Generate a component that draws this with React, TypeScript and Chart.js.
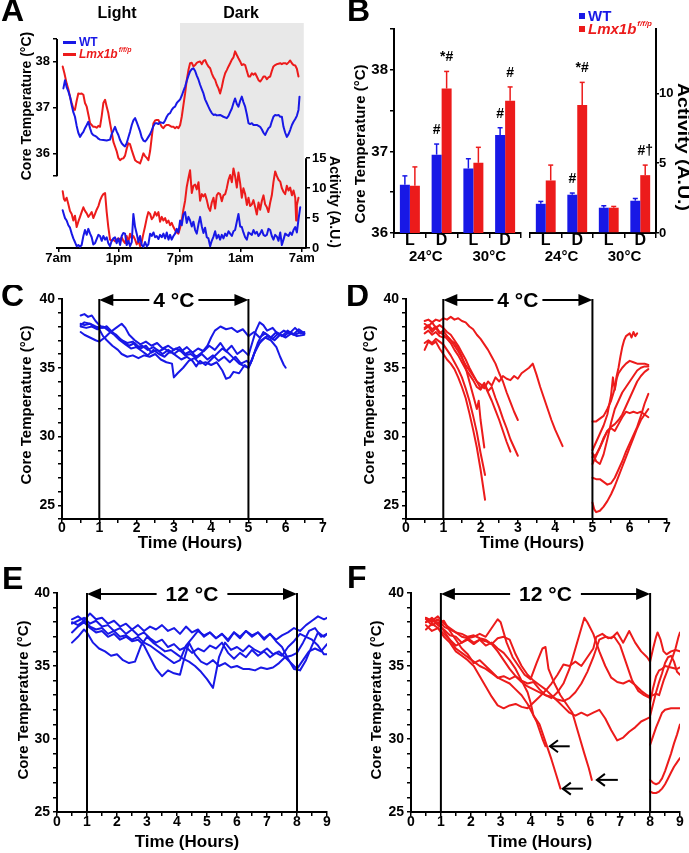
import React, { useEffect, useRef } from 'react';
import { Chart, registerables } from 'chart.js';

Chart.register(...registerables);

const FONT = "'Liberation Sans', Arial, Helvetica, sans-serif";
const BLUE = '#1818e6';
const RED = '#ec1b1b';
const SHADE = '#e8e8e8';

// ================= Panel A : 24 h recordings =================
const aHourTicks = [0, 6, 12, 18, 24];
const aHourLabels = ['7am', '1pm', '7pm', '1am', '7am'];
const aTempTicks = [35.5, 36, 37, 38, 38.5];
const aActTicks = [0, 5, 10, 15];
// [hour, °C] pairs
const aWtTemp = [
  0.5, 37.42, 0.66, 37.6, 0.82, 37.45, 1.0, 37.35, 1.15, 37.24, 1.32, 37.05, 1.48, 36.9, 1.64, 36.8, 1.81, 36.6, 1.97, 36.45,
  2.14, 36.36, 2.3, 36.42, 2.47, 36.47, 2.63, 36.55, 2.8, 36.62, 2.96, 36.69, 3.13, 36.55, 3.29, 36.44, 3.45, 36.4, 3.62, 36.38,
  3.78, 36.36, 3.95, 36.32, 4.11, 36.3, 4.44, 36.29, 4.77, 36.28, 5.1, 36.3, 5.26, 36.42, 5.43, 36.5, 5.59, 36.58, 5.75, 36.48,
  5.92, 36.4, 6.09, 36.29, 6.25, 36.22, 6.41, 36.18, 6.58, 36.15, 6.74, 36.22, 6.91, 36.35, 7.07, 36.47, 7.24, 36.62, 7.4, 36.72,
  7.57, 36.77, 7.73, 36.68, 7.9, 36.58, 8.06, 36.48, 8.22, 36.35, 8.39, 36.28, 8.55, 36.26, 8.72, 36.3, 8.88, 36.36, 9.05, 36.42,
  9.21, 36.5, 9.38, 36.6, 9.54, 36.66, 9.7, 36.66, 9.87, 36.64, 10.03, 36.68, 10.36, 36.66, 10.53, 36.72, 10.69, 36.8, 10.86, 36.86,
  11.02, 36.88, 11.18, 36.95, 11.35, 37.0, 11.51, 37.02, 11.68, 37.1, 11.84, 37.14, 12.01, 37.18, 12.17, 37.26, 12.33, 37.36, 12.5, 37.46,
  12.66, 37.58, 12.83, 37.7, 12.99, 37.79, 13.16, 37.84, 13.32, 37.86, 13.49, 37.8, 13.65, 37.7, 13.82, 37.61, 13.98, 37.5, 14.15, 37.4,
  14.31, 37.31, 14.47, 37.18, 14.64, 37.1, 14.8, 37.02, 14.97, 36.94, 15.13, 36.88, 15.3, 36.84, 15.46, 36.85, 15.62, 36.83, 15.95, 36.84,
  16.28, 36.8, 16.61, 36.77, 16.78, 36.82, 16.94, 36.9, 17.11, 36.98, 17.27, 37.1, 17.43, 37.2, 17.6, 37.08, 17.76, 37.02, 17.93, 37.15,
  18.09, 37.24, 18.25, 37.12, 18.42, 37.02, 18.59, 36.85, 18.75, 36.66, 18.91, 36.64, 19.08, 36.66, 19.24, 36.62, 19.57, 36.62, 19.9, 36.58,
  20.07, 36.52, 20.23, 36.45, 20.39, 36.4, 20.56, 36.48, 20.72, 36.55, 20.89, 36.58, 21.05, 36.7, 21.21, 36.8, 21.38, 36.84, 21.55, 36.83,
  21.71, 36.84, 21.88, 36.8, 22.04, 36.8, 22.2, 36.58, 22.37, 36.45, 22.53, 36.36, 22.7, 36.42, 22.86, 36.51, 23.03, 36.62, 23.19, 36.69,
  23.36, 36.75, 23.52, 36.82, 23.68, 36.95, 23.78, 37.24,
];
const aLmxTemp = [
  0.43, 37.9, 0.6, 37.75, 0.82, 37.53, 0.99, 37.4, 1.15, 37.24, 1.32, 37.1, 1.48, 36.98, 1.64, 36.95, 1.81, 37.15, 1.97, 37.31,
  2.14, 37.3, 2.3, 37.31, 2.47, 37.28, 2.63, 37.1, 2.8, 37.02, 2.96, 36.85, 3.13, 36.66, 3.29, 36.62, 3.45, 36.58, 3.62, 36.58,
  3.78, 36.56, 3.95, 36.6, 4.11, 36.58, 4.28, 36.82, 4.44, 37.1, 4.61, 37.17, 4.77, 37.02, 4.93, 36.88, 5.1, 36.66, 5.26, 36.47,
  5.43, 36.25, 5.59, 36.15, 5.75, 36.05, 5.92, 35.9, 6.09, 35.85, 6.25, 35.88, 6.41, 35.89, 6.58, 35.95, 6.74, 36.1, 6.91, 36.22,
  7.07, 36.2, 7.24, 36.07, 7.4, 35.96, 7.57, 35.85, 7.73, 35.82, 7.9, 35.8, 8.06, 35.78, 8.22, 35.88, 8.39, 36.0, 8.55, 35.94,
  8.72, 35.9, 8.88, 35.85, 9.05, 36.05, 9.21, 36.35, 9.38, 36.66, 9.54, 36.72, 9.7, 36.73, 9.87, 36.73, 10.03, 36.65, 10.2, 36.58,
  10.36, 36.55, 10.53, 36.6, 10.69, 36.62, 10.86, 36.62, 11.02, 36.6, 11.18, 36.58, 11.35, 36.58, 11.51, 36.55, 11.68, 36.58, 11.84, 36.55,
  12.01, 36.62, 12.17, 36.8, 12.33, 37.05, 12.5, 37.31, 12.66, 37.6, 12.83, 37.82, 12.99, 37.97, 13.16, 37.98, 13.32, 37.9, 13.49, 37.93,
  13.65, 37.98, 13.82, 38.0, 13.98, 38.01, 14.15, 37.95, 14.31, 38.02, 14.47, 38.04, 14.64, 37.96, 14.8, 37.9, 14.97, 37.86, 15.13, 37.75,
  15.3, 37.66, 15.46, 37.61, 15.62, 37.5, 15.79, 37.42, 15.95, 37.31, 16.12, 37.45, 16.28, 37.62, 16.45, 37.75, 16.61, 37.82, 16.78, 37.9,
  16.94, 37.97, 17.11, 38.05, 17.27, 38.1, 17.43, 38.23, 17.6, 38.15, 17.76, 38.08, 17.93, 38.01, 18.09, 37.93, 18.25, 37.95, 18.42, 37.93,
  18.59, 37.8, 18.75, 37.68, 18.91, 37.68, 19.08, 37.75, 19.24, 37.72, 19.41, 37.75, 19.57, 37.68, 19.74, 37.6, 19.9, 37.57, 20.07, 37.62,
  20.23, 37.68, 20.39, 37.68, 20.56, 37.62, 20.72, 37.66, 20.89, 37.68, 21.05, 37.8, 21.21, 37.9, 21.38, 37.93, 21.55, 37.95, 21.71, 37.96,
  21.88, 37.97, 22.04, 37.95, 22.2, 37.97, 22.37, 37.97, 22.53, 37.95, 22.7, 37.99, 22.86, 38.03, 23.03, 37.97, 23.19, 37.93, 23.36, 37.92,
  23.52, 37.85, 23.68, 37.68,
];
// [hour, A.U.] pairs
const aWtAct = [
  0.43, 6.3, 0.55, 5.6, 0.66, 5.0, 0.82, 4.6, 0.99, 3.8, 1.15, 3.4, 1.32, 2.4, 1.48, 1.6, 1.64, 1.0, 1.81, 0.3,
  1.97, 0.5, 2.14, 0.2, 2.3, 0.5, 2.47, 2.0, 2.63, 3.0, 2.8, 2.2, 2.96, 3.2, 3.13, 2.4, 3.29, 1.8, 3.45, 0.6,
  3.62, 0.8, 3.78, 1.5, 3.95, 2.2, 4.11, 2.0, 4.28, 1.2, 4.44, 2.0, 4.61, 1.4, 4.77, 1.8, 4.93, 0.8, 5.1, 0.3,
  5.26, 1.2, 5.43, 1.6, 5.59, 1.8, 5.75, 0.8, 5.92, 1.6, 6.09, 0.5, 6.25, 2.0, 6.41, 2.5, 6.58, 2.4, 6.74, 0.5,
  6.91, 1.2, 7.07, 0.3, 7.24, 1.0, 7.4, 5.7, 7.57, 3.5, 7.73, 2.4, 7.9, 1.0, 8.06, 2.0, 8.22, 0.5, 8.39, 0.2,
  8.55, 1.0, 8.72, 0.3, 8.88, 0.6, 9.05, 2.4, 9.21, 2.0, 9.38, 2.6, 9.54, 1.8, 9.7, 2.0, 9.87, 1.5, 10.03, 2.2,
  10.2, 1.8, 10.36, 2.4, 10.53, 1.6, 10.69, 2.6, 10.86, 1.4, 11.02, 2.2, 11.18, 1.4, 11.35, 2.0, 11.51, 2.4, 11.68, 3.2,
  11.84, 2.6, 12.01, 4.6, 12.17, 3.8, 12.33, 5.6, 12.5, 6.0, 12.66, 4.2, 12.83, 5.2, 12.99, 4.6, 13.16, 3.6, 13.32, 4.4,
  13.49, 3.0, 13.65, 2.4, 13.82, 4.0, 13.98, 5.2, 14.15, 3.6, 14.31, 2.5, 14.47, 3.4, 14.64, 1.8, 14.8, 1.6, 14.97, 0.3,
  15.13, 1.2, 15.3, 1.9, 15.46, 2.8, 15.62, 1.6, 15.79, 2.2, 15.95, 1.4, 16.12, 2.2, 16.28, 1.6, 16.45, 2.4, 16.61, 2.0,
  16.78, 2.8, 16.94, 2.4, 17.11, 2.0, 17.27, 2.8, 17.43, 3.0, 17.6, 4.4, 17.76, 5.7, 17.93, 3.6, 18.09, 3.5, 18.25, 2.6,
  18.42, 1.8, 18.59, 1.4, 18.75, 2.6, 18.91, 2.4, 19.08, 2.2, 19.24, 3.0, 19.41, 2.4, 19.57, 2.7, 19.74, 2.0, 19.9, 2.4,
  20.07, 3.0, 20.23, 2.2, 20.39, 2.0, 20.56, 2.2, 20.72, 3.2, 20.89, 3.0, 21.05, 2.0, 21.21, 1.4, 21.38, 2.2, 21.55, 1.9,
  21.71, 1.2, 21.88, 2.6, 22.04, 0.5, 22.2, 1.4, 22.37, 2.4, 22.53, 2.2, 22.7, 2.0, 22.86, 2.6, 23.03, 2.2, 23.19, 3.0,
  23.36, 3.5, 23.52, 2.6, 23.68, 4.8, 23.85, 6.8,
];
const aLmxAct = [
  0.43, 9.5, 0.55, 8.2, 0.66, 7.9, 0.82, 8.4, 0.99, 7.3, 1.15, 6.2, 1.32, 5.7, 1.48, 4.6, 1.64, 5.4, 1.81, 3.5,
  1.97, 4.4, 2.14, 5.2, 2.3, 6.0, 2.47, 6.8, 2.63, 6.2, 2.8, 5.8, 2.96, 5.2, 3.13, 5.6, 3.29, 6.0, 3.45, 5.0,
  3.62, 5.7, 3.78, 6.4, 3.95, 7.0, 4.11, 7.9, 4.28, 8.6, 4.44, 9.0, 4.61, 9.2, 4.77, 6.0, 4.93, 3.5, 5.1, 1.4,
  5.26, 1.2, 5.43, 1.4, 5.59, 1.1, 5.75, 1.4, 5.92, 1.6, 6.09, 1.4, 6.25, 1.8, 6.41, 1.2, 6.58, 0.8, 6.74, 2.0,
  6.91, 1.0, 7.07, 2.4, 7.24, 1.6, 7.4, 2.0, 7.57, 1.4, 7.73, 0.6, 7.9, 1.2, 8.06, 0.3, 8.22, 1.0, 8.39, 2.4,
  8.55, 3.6, 8.72, 5.0, 8.88, 6.0, 9.05, 5.7, 9.21, 4.8, 9.38, 5.2, 9.54, 6.0, 9.7, 5.4, 9.87, 6.0, 10.03, 4.4,
  10.2, 5.2, 10.36, 4.6, 10.53, 5.0, 10.69, 4.2, 10.86, 4.6, 11.02, 3.8, 11.18, 4.2, 11.35, 3.5, 11.51, 3.0, 11.68, 2.6,
  11.84, 2.4, 12.01, 3.4, 12.17, 4.6, 12.33, 6.4, 12.5, 7.9, 12.66, 10.2, 12.83, 11.7, 12.99, 13.0, 13.16, 9.2, 13.32, 10.4,
  13.49, 10.6, 13.65, 9.8, 13.82, 11.0, 13.98, 7.9, 14.15, 9.0, 14.31, 8.6, 14.47, 9.0, 14.64, 8.0, 14.8, 6.8, 14.97, 6.2,
  15.13, 7.6, 15.3, 8.4, 15.46, 6.6, 15.62, 8.8, 15.79, 9.2, 15.95, 9.0, 16.12, 7.8, 16.28, 8.8, 16.45, 9.0, 16.61, 10.0,
  16.78, 11.4, 16.94, 12.2, 17.11, 11.0, 17.27, 13.3, 17.43, 12.0, 17.6, 10.1, 17.76, 12.6, 17.93, 10.8, 18.09, 8.4, 18.25, 10.0,
  18.42, 9.0, 18.59, 7.2, 18.75, 8.4, 18.91, 7.0, 19.08, 7.3, 19.24, 8.0, 19.41, 6.8, 19.57, 5.6, 19.74, 7.6, 19.9, 6.4,
  20.07, 7.9, 20.23, 8.8, 20.39, 7.3, 20.56, 6.8, 20.72, 6.0, 20.89, 7.6, 21.05, 8.8, 21.21, 11.0, 21.38, 12.8, 21.55, 12.0,
  21.71, 11.4, 21.88, 11.1, 22.04, 10.0, 22.2, 9.4, 22.37, 9.0, 22.53, 10.4, 22.7, 9.6, 22.86, 10.1, 23.03, 8.8, 23.19, 9.6,
  23.36, 8.4, 23.45, 4.6, 23.52, 7.2, 23.68, 8.4,
];

// ================= Panel B : bar means ± SEM =================
const bCats = ['L', 'D', 'L', 'D'];
const bGroups = ['24°C', '30°C'];
const bTempTicks = [36, 36.5, 37, 37.5, 38, 38.5];
const bActTicks = [0, 5, 10];
const bTempWT = [36.59, 36.96, 36.79, 37.2];
const bTempWTErr = [0.11, 0.13, 0.12, 0.09];
const bTempLmx = [36.58, 37.77, 36.86, 37.62];
const bTempLmxErr = [0.23, 0.21, 0.19, 0.17];
const bActWT = [2.09, 2.74, 1.81, 2.31];
const bActWTErr = [0.17, 0.12, 0.14, 0.16];
const bActLmx = [3.76, 9.16, 1.81, 4.14];
const bActLmxErr = [1.1, 1.62, 0.09, 0.72];
const bTempMarksWT = ['', '#', '', '#'];
const bTempMarksLmx = ['', '*#', '', '#'];
const bActMarksWT = ['', '#', '', ''];
const bActMarksLmx = ['', '*#', '', '#†'];

// ================= Panel C : WT at 4 °C =================
const cTrace1 = [0.5, 38.8, 0.6, 38.9, 0.7, 38.7, 0.8, 38.8, 0.9, 38.4, 1.0, 38.1, 1.1, 37.9, 1.2, 38.0, 1.3, 37.6, 1.45, 37.4, 1.6, 37.0, 1.75, 36.8, 1.9, 36.9, 2.0, 36.5, 2.15, 36.6, 2.3, 36.3, 2.45, 36.5, 2.6, 36.2, 2.75, 36.4, 2.9, 36.1, 3.05, 36.4, 3.2, 36.2, 3.35, 36.5, 3.5, 36.1, 3.65, 36.4, 3.8, 36.2, 3.95, 36.6, 4.1, 36.3, 4.25, 36.8, 4.4, 36.2, 4.55, 36.6, 4.7, 36.0, 4.85, 36.3, 5.0, 35.9, 5.1, 36.8, 5.2, 37.7, 5.3, 38.3, 5.4, 38.1, 5.5, 37.7, 5.65, 37.9, 5.8, 37.4, 5.95, 37.7, 6.1, 37.5, 6.25, 37.9, 6.4, 37.5, 6.5, 37.6];
const cTrace2 = [0.5, 38.2, 0.6, 38.1, 0.75, 38.2, 0.9, 37.9, 1.0, 37.8, 1.1, 37.3, 1.2, 37.0, 1.35, 36.6, 1.5, 36.3, 1.6, 36.0, 1.75, 35.8, 1.9, 35.9, 2.05, 35.7, 2.2, 35.9, 2.35, 35.8, 2.5, 36.0, 2.65, 35.6, 2.8, 35.4, 2.95, 35.3, 3.0, 34.3, 3.1, 34.6, 3.25, 35.0, 3.4, 35.5, 3.55, 35.7, 3.7, 35.3, 3.85, 35.4, 4.0, 35.2, 4.15, 35.4, 4.3, 34.8, 4.4, 34.2, 4.5, 34.3, 4.6, 34.7, 4.75, 34.6, 4.9, 35.2, 5.0, 35.0, 5.1, 35.6, 5.2, 36.4, 5.35, 37.0, 5.5, 37.3, 5.65, 37.1, 5.8, 37.5, 5.95, 37.3, 6.1, 37.6, 6.25, 37.4, 6.4, 37.6, 6.5, 37.5];
const cTrace3 = [0.5, 37.6, 0.6, 37.4, 0.75, 37.2, 0.9, 37.0, 1.0, 36.9, 1.15, 37.2, 1.3, 37.6, 1.45, 37.9, 1.6, 38.2, 1.7, 37.9, 1.8, 37.4, 1.95, 37.0, 2.1, 36.7, 2.25, 36.9, 2.4, 36.6, 2.55, 36.8, 2.7, 36.4, 2.85, 36.6, 3.0, 36.3, 3.15, 36.5, 3.3, 36.0, 3.45, 36.2, 3.6, 35.8, 3.75, 36.1, 3.9, 36.6, 4.0, 37.2, 4.1, 37.7, 4.25, 38.0, 4.4, 37.8, 4.55, 37.9, 4.7, 37.6, 4.85, 37.8, 5.0, 37.3, 5.15, 37.6, 5.3, 37.2, 5.45, 37.5, 5.6, 37.2, 5.75, 37.6, 5.9, 37.3, 6.05, 37.7, 6.2, 37.4, 6.35, 37.8, 6.5, 37.5];
const cTrace4 = [0.5, 38.0, 0.65, 37.9, 0.8, 38.0, 0.95, 37.8, 1.1, 38.0, 1.25, 37.7, 1.4, 37.4, 1.55, 37.0, 1.7, 36.7, 1.85, 36.4, 2.0, 36.5, 2.15, 36.2, 2.3, 35.9, 2.45, 36.3, 2.6, 36.0, 2.75, 35.8, 2.9, 36.2, 3.05, 35.9, 3.2, 35.6, 3.35, 35.8, 3.5, 35.5, 3.6, 35.1, 3.7, 35.5, 3.85, 35.2, 4.0, 35.6, 4.15, 36.0, 4.3, 36.4, 4.45, 36.1, 4.6, 35.7, 4.75, 35.3, 4.9, 35.1, 5.0, 35.0, 5.1, 35.6, 5.25, 36.8, 5.4, 37.6, 5.55, 37.3, 5.7, 37.0, 5.85, 37.4, 6.0, 37.2, 6.15, 37.5, 6.3, 37.3, 6.5, 37.4];
const cTrace5 = [0.5, 38.1, 0.6, 38.3, 0.75, 38.2, 0.9, 38.0, 1.05, 37.9, 1.2, 38.0, 1.35, 37.6, 1.5, 37.2, 1.65, 36.9, 1.8, 36.6, 1.95, 36.8, 2.1, 36.4, 2.25, 36.6, 2.4, 36.1, 2.55, 36.3, 2.7, 36.0, 2.85, 36.3, 3.0, 36.0, 3.15, 36.3, 3.3, 35.9, 3.45, 36.0, 3.6, 35.7, 3.75, 36.0, 3.9, 35.6, 4.05, 35.9, 4.2, 35.5, 4.35, 35.8, 4.5, 35.4, 4.65, 35.8, 4.8, 35.3, 4.95, 35.5, 5.05, 35.3, 5.15, 36.0, 5.3, 36.8, 5.45, 37.2, 5.6, 37.0, 5.75, 36.5, 5.85, 35.8, 5.95, 35.2, 6.0, 35.0];
const cTraces = [cTrace1, cTrace2, cTrace3, cTrace4, cTrace5];

// ================= Panel D : Lmx1b at 4 °C =================
const dTrace1 = [0.5, 38.4, 0.6, 38.5, 0.7, 38.3, 0.8, 38.5, 0.9, 38.4, 1.0, 38.6, 1.1, 38.5, 1.2, 38.7, 1.3, 38.5, 1.4, 38.6, 1.5, 38.4, 1.6, 38.3, 1.7, 38.0, 1.8, 37.8, 1.9, 37.4, 2.0, 37.1, 2.1, 36.7, 2.2, 36.3, 2.3, 35.8, 2.4, 35.3, 2.5, 34.6, 2.6, 34.0, 2.7, 33.2, 2.8, 32.5, 2.9, 31.8, 3.0, 31.2];
const dTrace2 = [0.5, 37.8, 0.6, 38.0, 0.7, 37.6, 0.8, 37.9, 0.9, 37.5, 1.0, 37.7, 1.1, 37.3, 1.2, 37.0, 1.3, 36.6, 1.4, 36.2, 1.5, 35.7, 1.6, 35.2, 1.7, 34.8, 1.8, 34.4, 1.9, 34.0, 2.0, 33.8, 2.1, 33.5, 2.2, 34.0, 2.3, 33.7, 2.4, 34.3, 2.5, 34.0, 2.6, 34.4, 2.7, 34.2, 2.8, 34.1, 2.9, 34.4, 3.0, 34.2, 3.1, 34.6, 3.2, 34.8, 3.3, 35.0, 3.4, 35.3, 3.5, 34.5, 3.6, 33.6, 3.7, 32.8, 3.8, 32.0, 3.9, 31.2, 4.0, 30.5, 4.1, 29.9, 4.2, 29.3];
const dTrace3 = [0.5, 36.3, 0.6, 36.9, 0.7, 36.7, 0.8, 36.9, 0.9, 36.4, 1.0, 36.0, 1.1, 35.6, 1.2, 35.3, 1.3, 34.9, 1.4, 34.3, 1.5, 33.6, 1.6, 32.8, 1.7, 31.7, 1.8, 30.5, 1.9, 29.2, 2.0, 27.6, 2.12, 25.4];
const dTrace4 = [0.5, 36.8, 0.6, 37.0, 0.7, 36.8, 0.8, 37.1, 0.9, 36.9, 1.0, 36.7, 1.1, 36.3, 1.2, 35.9, 1.3, 35.4, 1.4, 34.9, 1.5, 34.3, 1.6, 33.5, 1.7, 32.6, 1.8, 31.5, 1.9, 30.3, 2.0, 28.8, 2.12, 27.2];
const dTrace5 = [0.5, 37.5, 0.6, 37.7, 0.7, 37.4, 0.8, 37.6, 0.9, 37.3, 1.0, 37.2, 1.1, 37.3, 1.2, 37.0, 1.3, 36.8, 1.4, 36.4, 1.5, 35.8, 1.6, 35.0, 1.7, 34.0, 1.8, 33.0, 1.9, 32.0, 1.95, 32.6, 2.0, 31.2, 2.1, 29.2];
const dTrace6 = [0.5, 37.9, 0.6, 38.1, 0.7, 37.8, 0.8, 38.0, 0.9, 37.6, 1.0, 37.4, 1.1, 37.1, 1.2, 36.8, 1.3, 36.3, 1.4, 35.9, 1.5, 35.4, 1.6, 34.9, 1.7, 34.5, 1.8, 34.1, 1.9, 33.6, 2.0, 33.4, 2.1, 33.8, 2.2, 33.2, 2.3, 32.6, 2.4, 31.9, 2.5, 31.2, 2.6, 30.4, 2.7, 29.6, 2.8, 28.9];
const dTrace7 = [0.5, 38.2, 0.6, 38.0, 0.7, 38.3, 0.8, 37.9, 0.9, 38.1, 1.0, 37.9, 1.1, 37.6, 1.2, 37.4, 1.3, 37.0, 1.4, 36.6, 1.5, 36.1, 1.6, 35.6, 1.7, 35.0, 1.8, 34.5, 1.9, 34.0, 2.0, 33.5, 2.1, 33.9, 2.2, 33.3, 2.3, 33.6, 2.4, 32.8, 2.5, 32.1, 2.6, 31.3, 2.7, 30.6, 2.8, 29.8, 2.9, 29.2, 3.0, 28.6];
const dRecover1 = [5.0, 31.1, 5.1, 31.1, 5.2, 31.3, 5.3, 31.5, 5.4, 32.0, 5.5, 32.6, 5.6, 33.5, 5.65, 34.4, 5.7, 35.0, 5.75, 35.8, 5.8, 36.5, 5.85, 37.0, 5.9, 37.3, 6.0, 37.5, 6.05, 37.2, 6.1, 37.6, 6.15, 37.3, 6.2, 37.5];
const dRecover2 = [5.0, 29.0, 5.1, 29.6, 5.2, 30.2, 5.3, 30.8, 5.4, 31.6, 5.5, 33.0, 5.55, 34.3, 5.6, 33.4, 5.65, 34.2, 5.7, 34.6, 5.8, 35.0, 5.9, 35.3, 6.0, 35.5, 6.1, 35.4, 6.2, 35.3, 6.3, 35.3, 6.4, 35.3, 6.5, 35.2];
const dRecover3 = [5.0, 28.5, 5.1, 28.7, 5.2, 29.2, 5.3, 29.8, 5.4, 30.4, 5.5, 30.7, 5.6, 30.9, 5.7, 31.2, 5.8, 31.6, 5.9, 32.2, 6.0, 32.8, 6.1, 33.4, 6.2, 34.0, 6.3, 34.4, 6.4, 34.7, 6.5, 34.9];
const dRecover4 = [5.0, 27.0, 5.1, 26.9, 5.2, 26.9, 5.3, 26.7, 5.4, 26.5, 5.5, 26.6, 5.6, 27.0, 5.7, 27.6, 5.8, 28.2, 5.9, 28.9, 6.0, 29.5, 6.1, 30.1, 6.2, 30.7, 6.3, 31.5, 6.4, 32.4, 6.5, 33.1];
const dRecover5 = [5.0, 25.2, 5.05, 24.7, 5.1, 24.5, 5.2, 24.6, 5.3, 24.9, 5.4, 25.3, 5.5, 25.8, 5.6, 26.4, 5.7, 27.1, 5.8, 27.8, 5.9, 28.5, 6.0, 29.2, 6.1, 29.9, 6.2, 30.6, 6.3, 31.2, 6.4, 31.6, 6.5, 32.0];
const dRecover6 = [5.0, 28.0, 5.1, 28.6, 5.2, 29.2, 5.3, 29.9, 5.4, 30.4, 5.5, 30.6, 5.6, 30.4, 5.7, 30.9, 5.8, 31.4, 5.9, 31.8, 6.0, 31.7, 6.1, 31.8, 6.2, 31.7, 6.3, 31.8, 6.4, 31.6, 6.5, 31.4];
const dRecover7 = [5.0, 28.8, 5.1, 28.2, 5.2, 28.0, 5.3, 28.7, 5.4, 29.8, 5.5, 31.0, 5.6, 32.0, 5.7, 32.6, 5.8, 33.2, 5.9, 33.6, 6.0, 34.0, 6.1, 34.4, 6.2, 34.8, 6.3, 35.0, 6.4, 35.1, 6.5, 35.1];
const dTraces = [dTrace1, dTrace2, dTrace3, dTrace4, dTrace5, dTrace6, dTrace7, dRecover1, dRecover2, dRecover3, dRecover4, dRecover5, dRecover6, dRecover7];

// ================= Panel E : WT at 12 °C =================
const eTrace1 = [0.5, 38.2, 0.7, 38.4, 0.9, 38.1, 1.1, 38.6, 1.3, 38.2, 1.5, 38.3, 1.7, 37.9, 1.9, 38.1, 2.1, 37.7, 2.3, 37.9, 2.5, 37.5, 2.7, 37.8, 2.9, 37.4, 3.1, 37.7, 3.3, 37.5, 3.5, 37.8, 3.7, 37.4, 3.9, 37.6, 4.1, 37.2, 4.3, 37.7, 4.5, 37.3, 4.7, 37.5, 4.9, 37.0, 5.1, 37.3, 5.3, 36.9, 5.5, 37.2, 5.7, 36.8, 5.9, 37.3, 6.1, 37.0, 6.3, 37.4, 6.5, 37.1, 6.7, 37.3, 6.9, 36.9, 7.1, 37.2, 7.3, 36.8, 7.5, 37.1, 7.7, 37.3, 7.9, 37.6, 8.1, 37.4, 8.3, 37.8, 8.5, 38.1, 8.7, 38.4, 8.9, 38.2, 9.0, 38.3];
const eTrace2 = [0.5, 37.3, 0.7, 37.7, 0.9, 38.0, 1.1, 37.6, 1.3, 37.3, 1.5, 37.4, 1.7, 37.0, 1.9, 37.2, 2.1, 36.8, 2.3, 37.0, 2.5, 36.7, 2.7, 36.8, 2.9, 36.4, 3.1, 35.6, 3.3, 34.8, 3.5, 34.3, 3.7, 34.7, 3.9, 34.5, 4.1, 34.4, 4.2, 35.2, 4.4, 36.6, 4.6, 35.8, 4.8, 35.3, 5.0, 35.1, 5.2, 35.4, 5.4, 35.0, 5.6, 35.2, 5.8, 34.9, 6.0, 35.0, 6.2, 34.8, 6.4, 34.8, 6.6, 34.7, 6.8, 34.9, 7.0, 34.8, 7.2, 34.9, 7.4, 35.2, 7.6, 35.6, 7.8, 35.7, 8.0, 35.9, 8.2, 36.6, 8.4, 37.4, 8.6, 37.6, 8.8, 37.0, 9.0, 37.2];
const eTrace3 = [0.5, 36.6, 0.7, 37.0, 0.9, 37.5, 1.0, 37.3, 1.2, 36.6, 1.4, 36.2, 1.6, 36.0, 1.8, 35.7, 2.0, 35.8, 2.2, 35.4, 2.4, 35.2, 2.6, 35.3, 2.8, 36.4, 3.0, 37.0, 3.2, 36.6, 3.4, 36.3, 3.6, 36.0, 3.8, 36.1, 4.0, 35.8, 4.2, 35.5, 4.4, 35.3, 4.6, 35.0, 4.8, 34.6, 5.0, 34.1, 5.2, 33.5, 5.4, 35.6, 5.6, 36.6, 5.8, 36.1, 6.0, 36.3, 6.2, 36.0, 6.4, 36.4, 6.6, 36.1, 6.8, 35.9, 7.0, 36.2, 7.2, 35.8, 7.4, 36.0, 7.6, 35.6, 7.8, 35.2, 8.0, 34.8, 8.2, 35.4, 8.4, 36.0, 8.6, 36.2, 8.8, 36.0, 9.0, 36.5];
const eTrace4 = [0.5, 37.9, 0.7, 38.1, 0.9, 38.3, 1.1, 37.9, 1.3, 38.1, 1.5, 37.7, 1.7, 37.8, 1.9, 37.4, 2.1, 37.6, 2.3, 37.2, 2.5, 37.5, 2.7, 37.1, 2.9, 37.3, 3.1, 36.9, 3.3, 36.6, 3.5, 36.8, 3.7, 36.3, 3.9, 36.5, 4.1, 36.1, 4.3, 36.3, 4.5, 35.9, 4.7, 36.2, 4.9, 36.0, 5.1, 36.4, 5.3, 36.2, 5.5, 36.6, 5.7, 35.9, 5.9, 35.5, 6.1, 35.9, 6.3, 35.6, 6.5, 36.1, 6.7, 35.7, 6.9, 36.0, 7.1, 35.6, 7.3, 35.9, 7.5, 35.7, 7.7, 36.3, 7.9, 36.7, 8.1, 37.2, 8.3, 37.0, 8.5, 36.8, 8.7, 36.4, 8.9, 35.8, 9.0, 35.8];
const eTrace5 = [0.5, 38.0, 0.7, 37.8, 0.9, 38.1, 1.1, 37.7, 1.3, 37.5, 1.5, 37.6, 1.7, 37.2, 1.9, 37.4, 2.1, 37.0, 2.3, 37.1, 2.5, 36.8, 2.7, 37.0, 2.9, 36.6, 3.1, 36.4, 3.3, 36.1, 3.5, 35.8, 3.7, 35.5, 3.9, 35.2, 4.1, 35.4, 4.3, 36.4, 4.5, 36.9, 4.7, 37.4, 4.9, 37.1, 5.1, 37.3, 5.3, 36.9, 5.5, 37.2, 5.7, 36.7, 5.9, 37.3, 6.1, 36.9, 6.3, 37.4, 6.5, 37.0, 6.7, 37.3, 6.9, 36.8, 7.1, 37.2, 7.3, 36.7, 7.5, 36.3, 7.7, 35.5, 7.9, 34.8, 8.1, 34.7, 8.3, 35.4, 8.5, 36.4, 8.7, 37.3, 8.9, 37.0, 9.0, 37.2];
const eTraces = [eTrace1, eTrace2, eTrace3, eTrace4, eTrace5];

// ================= Panel F : Lmx1b at 12 °C =================
const fTrace1 = [0.5, 38.3, 0.7, 38.1, 0.9, 38.4, 1.1, 37.9, 1.3, 37.6, 1.5, 37.3, 1.7, 37.0, 1.9, 36.9, 2.1, 36.6, 2.3, 36.8, 2.5, 36.4, 2.7, 36.6, 2.9, 36.2, 3.1, 35.9, 3.3, 35.4, 3.5, 34.8, 3.7, 34.0, 3.9, 33.2, 4.0, 32.5, 4.1, 31.6, 4.2, 31.2, 4.3, 30.6, 4.4, 30.0, 4.5, 29.5];
const fTrace2 = [0.5, 38.0, 0.7, 38.3, 0.9, 37.9, 1.1, 38.1, 1.3, 37.4, 1.5, 36.8, 1.7, 36.2, 1.9, 35.8, 2.1, 35.2, 2.3, 35.4, 2.5, 35.0, 2.7, 34.6, 2.9, 34.2, 3.1, 34.0, 3.3, 33.8, 3.5, 33.4, 3.7, 33.0, 3.9, 32.4, 4.1, 31.6, 4.3, 31.0, 4.5, 29.8, 4.7, 28.6, 4.85, 27.6, 5.0, 26.6];
const fTrace3 = [0.5, 37.5, 0.7, 37.9, 0.9, 37.6, 1.1, 37.2, 1.3, 36.8, 1.5, 36.4, 1.7, 36.6, 1.9, 36.9, 2.1, 37.0, 2.3, 37.2, 2.5, 37.0, 2.7, 37.6, 2.9, 38.2, 3.0, 38.0, 3.2, 36.6, 3.4, 35.6, 3.6, 35.0, 3.8, 34.4, 4.0, 34.1, 4.2, 35.2, 4.4, 36.2, 4.5, 36.3, 4.6, 34.8, 4.8, 33.8, 5.0, 33.0, 5.2, 32.4, 5.4, 31.8, 5.6, 30.4, 5.8, 29.0, 5.95, 28.0, 6.05, 27.2];
const fTrace4 = [0.5, 38.2, 0.7, 37.8, 0.9, 38.0, 1.1, 37.4, 1.3, 36.8, 1.5, 36.2, 1.7, 35.9, 1.9, 35.6, 2.1, 35.3, 2.3, 35.0, 2.5, 34.8, 2.7, 34.5, 2.9, 34.2, 3.1, 34.3, 3.3, 34.1, 3.5, 34.3, 3.7, 34.0, 3.9, 33.8, 4.1, 33.9, 4.3, 33.4, 4.5, 33.0, 4.7, 32.8, 4.9, 33.2, 5.1, 33.8, 5.3, 34.8, 5.5, 36.2, 5.7, 37.6, 5.8, 38.3, 5.9, 38.0, 6.1, 37.2, 6.3, 36.0, 6.5, 35.0, 6.7, 34.2, 6.9, 33.9, 7.1, 33.8, 7.3, 34.0, 7.5, 33.7, 7.7, 33.3, 7.9, 33.0, 8.0, 32.9];
const fTrace5 = [0.5, 37.8, 0.7, 37.4, 0.9, 37.6, 1.1, 37.0, 1.3, 36.6, 1.5, 36.0, 1.7, 35.7, 1.9, 35.4, 2.1, 35.0, 2.3, 34.3, 2.5, 33.6, 2.7, 32.9, 2.9, 32.3, 3.1, 32.1, 3.3, 32.3, 3.5, 32.4, 3.7, 32.2, 3.9, 32.1, 4.1, 32.5, 4.3, 32.9, 4.5, 33.3, 4.7, 33.8, 4.9, 34.4, 5.1, 35.1, 5.3, 35.0, 5.5, 35.3, 5.7, 35.0, 5.9, 35.6, 6.1, 36.2, 6.2, 37.0, 6.4, 37.2, 6.6, 36.9, 6.8, 37.0, 7.0, 36.4, 7.2, 35.2, 7.4, 34.0, 7.6, 33.3, 7.8, 33.0, 8.0, 32.8];
const fTrace6 = [0.5, 38.0, 0.7, 38.2, 0.9, 37.8, 1.1, 37.5, 1.3, 37.1, 1.5, 37.0, 1.7, 36.6, 1.9, 36.8, 2.1, 36.5, 2.3, 36.8, 2.5, 36.7, 2.7, 36.5, 2.9, 36.9, 3.1, 37.0, 3.3, 36.8, 3.5, 35.8, 3.7, 35.0, 3.9, 34.4, 4.1, 34.0, 4.3, 33.7, 4.5, 33.4, 4.7, 33.0, 4.9, 32.6, 5.1, 32.2, 5.3, 31.8, 5.5, 31.6, 5.7, 31.8, 5.9, 31.6, 6.1, 31.8, 6.3, 32.0, 6.5, 31.4, 6.7, 30.6, 6.9, 29.9, 7.1, 30.1, 7.3, 30.5, 7.5, 30.8, 7.7, 31.2, 7.9, 31.4, 8.0, 31.5];
const fTrace7 = [0.5, 38.3, 0.7, 38.0, 0.9, 38.2, 1.1, 37.7, 1.3, 37.5, 1.5, 37.3, 1.7, 37.2, 1.9, 37.0, 2.1, 37.1, 2.3, 36.9, 2.5, 36.8, 2.7, 36.5, 2.9, 36.0, 3.1, 35.4, 3.3, 34.8, 3.5, 34.3, 3.7, 33.9, 3.9, 33.6, 4.1, 33.4, 4.3, 33.2, 4.5, 33.0, 4.7, 32.9, 4.9, 32.7, 5.1, 32.6, 5.3, 32.8, 5.5, 33.2, 5.7, 33.8, 5.9, 34.6, 6.1, 35.6, 6.3, 36.8, 6.5, 37.0, 6.7, 36.9, 6.9, 37.3, 7.1, 36.6, 7.3, 37.4, 7.5, 36.6, 7.7, 36.0, 7.9, 35.6, 8.0, 35.3];
const fRecover1 = [8.0, 29.6, 8.1, 30.2, 8.2, 30.8, 8.3, 31.3, 8.4, 31.8, 8.5, 32.0, 8.7, 32.1, 8.9, 32.1, 9.0, 32.1];
const fRecover2 = [8.0, 27.2, 8.1, 27.0, 8.2, 26.9, 8.3, 27.0, 8.4, 27.3, 8.5, 27.8, 8.6, 28.4, 8.7, 29.0, 8.8, 29.7, 8.9, 30.3, 9.0, 31.0];
const fRecover3 = [8.0, 26.4, 8.1, 26.3, 8.2, 26.3, 8.3, 26.4, 8.4, 26.6, 8.5, 26.9, 8.6, 27.3, 8.7, 27.7, 8.8, 28.1, 8.9, 28.4, 9.0, 28.7];
const fRecover4 = [8.0, 32.5, 8.1, 33.5, 8.2, 34.3, 8.3, 34.7, 8.4, 34.8, 8.5, 35.0, 8.7, 34.9, 8.9, 34.8, 9.0, 34.9];
const fRecover5 = [8.0, 31.6, 8.1, 32.4, 8.2, 33.2, 8.3, 33.9, 8.4, 34.5, 8.5, 35.2, 8.6, 35.6, 8.7, 35.7, 8.8, 35.3, 8.9, 34.6, 9.0, 34.4];
const fRecover6 = [8.0, 35.3, 8.1, 36.2, 8.2, 37.0, 8.25, 37.3, 8.35, 36.8, 8.45, 36.0, 8.55, 35.8, 8.7, 36.0, 8.85, 36.1, 9.0, 36.0];
const fRecover7 = [8.0, 33.0, 8.1, 33.0, 8.2, 33.1, 8.3, 33.0, 8.45, 34.0, 8.6, 34.8, 8.75, 35.6, 8.85, 36.2, 8.95, 37.0, 9.0, 37.3];
const fTraces = [fTrace1, fTrace2, fTrace3, fTrace4, fTrace5, fTrace6, fTrace7, fRecover1, fRecover2, fRecover3, fRecover4, fRecover5, fRecover6, fRecover7];
// arrow annotations: [tip hour, tail hour, °C]
const fArrows = [[4.65, 5.31, 29.5], [6.22, 6.92, 27.2], [5.08, 5.75, 26.6]];

const cold4 = [1, 5];
const cold12 = [1, 8];

// ================= helpers =================
type Box = { x: number; y: number; w: number; h: number };
type Area = { l: number; t: number; r: number; b: number };

const bold = (px: number) => `bold ${px}px ${FONT}`;
const boldIt = (px: number) => `italic bold ${px}px ${FONT}`;

function pts(flat: number[]) {
  const out: { x: number; y: number }[] = [];
  for (let i = 0; i + 1 < flat.length; i += 2) out.push({ x: flat[i], y: flat[i + 1] });
  return out;
}

function txt(ctx: any, s: string, x: number, y: number, font: string, color = '#000', align = 'center', rot = 0, stretch = 1) {
  ctx.save();
  ctx.translate(x, y);
  if (rot) ctx.rotate(rot);
  if (stretch !== 1) ctx.scale(stretch, 1);
  ctx.font = font;
  ctx.fillStyle = color;
  ctx.textAlign = align;
  ctx.textBaseline = 'middle';
  ctx.fillText(s, 0, 0);
  ctx.restore();
}

function seg(ctx: any, x1: number, y1: number, x2: number, y2: number) {
  ctx.beginPath();
  ctx.moveTo(x1, y1);
  ctx.lineTo(x2, y2);
  ctx.stroke();
}

const fixW = (w: number) => (s: any) => { s.width = w; s.paddingTop = 0; s.paddingBottom = 0; };
const fixH = (h: number) => (s: any) => { s.height = h; s.paddingLeft = 0; s.paddingRight = 0; };
const setTicks = (vals: number[]) => (s: any) => { s.ticks = vals.map((v) => ({ value: v })); };
const tickFont = (px: number) => ({ family: FONT, size: px, weight: 'bold', lineHeight: 1 });
const gridOpts = (len: number, extra: any = {}) => ({ drawOnChartArea: false, drawTicks: true, tickLength: len, color: '#000', lineWidth: 1.5, ...extra });
const BORDER = { display: true, color: '#000', width: 2 };

function common(box: Box, area: Area, padLeft = 0) {
  return {
    responsive: false,
    maintainAspectRatio: false,
    animation: false,
    devicePixelRatio: 1,
    events: [],
    layout: { padding: { left: padLeft, top: area.t - box.y, right: 0, bottom: 0 }, autoPadding: false },
    elements: { point: { radius: 0 }, line: { tension: 0, borderJoinStyle: 'round', borderCapStyle: 'round' } },
    plugins: { legend: { display: false }, tooltip: { enabled: false }, title: { display: false } },
  };
}

function lineDs(flat: number[], color: string, width: number, yAxisID = 'y') {
  return { data: pts(flat), borderColor: color, borderWidth: width, yAxisID, pointRadius: 0, fill: false };
}

// ================= Panel boxes =================
const BOX_A: Box = { x: 0, y: 0, w: 345, h: 280 };
const AREA_A: Area = { l: 57, t: 23, r: 306, b: 248 };
const BOX_B1: Box = { x: 345, y: 0, w: 182, h: 280 };
const AREA_B1: Area = { l: 394, t: 29, r: 521, b: 233 };
const BOX_B2: Box = { x: 527, y: 0, w: 162, h: 280 };
const AREA_B2: Area = { l: 530, t: 29, r: 656, b: 233 };
const BOX_C: Box = { x: 0, y: 285, w: 345, h: 280 };
const AREA_C: Area = { l: 62, t: 299, r: 323, b: 519 };
const BOX_D: Box = { x: 345, y: 285, w: 344, h: 280 };
const AREA_D: Area = { l: 406, t: 299, r: 667, b: 519 };
const BOX_E: Box = { x: 0, y: 565, w: 345, h: 288 };
const AREA_E: Area = { l: 57, t: 593, r: 327, b: 812 };
const BOX_F: Box = { x: 345, y: 565, w: 344, h: 288 };
const AREA_F: Area = { l: 411, t: 593, r: 680, b: 812 };

// ================= Panel A config =================
function configA() {
  const box = BOX_A, area = AREA_A;
  const ox = box.x, oy = box.y;
  const opts: any = common(box, area);
  opts.scales = {
    x: {
      type: 'linear', min: -0.13, max: 24.42,
      afterBuildTicks: setTicks(aHourTicks), afterFit: fixH(box.y + box.h - area.b),
      ticks: { color: '#000', font: tickFont(13), padding: -0.5, autoSkip: false, maxRotation: 0, callback: (_v: any, i: number) => aHourLabels[i] },
      grid: gridOpts(4), border: BORDER,
    },
    yT: {
      type: 'linear', position: 'left', min: 33.93, max: 38.85,
      afterBuildTicks: setTicks(aTempTicks), afterFit: fixW(area.l - box.x),
      ticks: { color: '#000', font: tickFont(13), padding: 3, autoSkip: false, callback: (v: number) => (Number.isInteger(v) ? String(v) : '') },
      grid: gridOpts(4), border: { display: false },
    },
    yA: {
      type: 'linear', position: 'right', min: 0, max: 37.6,
      afterBuildTicks: setTicks(aActTicks), afterFit: fixW(box.x + box.w - area.r),
      ticks: { color: '#000', font: tickFont(13), padding: 2, autoSkip: false },
      grid: gridOpts(4), border: { display: false },
    },
  };
  return {
    type: 'line',
    data: {
      datasets: [
        lineDs(aWtTemp, BLUE, 2, 'yT'),
        lineDs(aLmxTemp, RED, 2, 'yT'),
        lineDs(aWtAct, BLUE, 2, 'yA'),
        lineDs(aLmxAct, RED, 2, 'yA'),
      ],
    },
    options: opts,
    plugins: [
      {
        id: 'aDeco',
        beforeDraw(chart: any) {
          const { ctx, chartArea: ca, scales } = chart;
          const x1 = scales.x.getPixelForValue(12);
          const x2 = scales.x.getPixelForValue(24.2);
          ctx.save();
          ctx.fillStyle = SHADE;
          ctx.fillRect(x1, ca.top, x2 - x1, ca.bottom - ca.top - 1);
          ctx.restore();
        },
        afterDraw(chart: any) {
          const { ctx, chartArea: ca, scales } = chart;
          ctx.save();
          ctx.strokeStyle = '#000';
          ctx.lineWidth = 2;
          seg(ctx, ca.left, scales.yT.getPixelForValue(35.5), ca.left, scales.yT.getPixelForValue(38.5));
          seg(ctx, ca.right, scales.yA.getPixelForValue(0), ca.right, scales.yA.getPixelForValue(15));
          // legend
          ctx.lineWidth = 3;
          ctx.strokeStyle = BLUE;
          seg(ctx, 63 - ox, 42.5 - oy, 76 - ox, 42.5 - oy);
          ctx.strokeStyle = RED;
          seg(ctx, 63 - ox, 54.5 - oy, 76 - ox, 54.5 - oy);
          ctx.restore();
          txt(ctx, 'WT', 79 - ox, 43 - oy, bold(12), BLUE, 'left');
          txt(ctx, 'Lmx1b', 79 - ox, 55 - oy, boldIt(12), RED, 'left');
          ctx.font = boldIt(12);
          const w = ctx.measureText('Lmx1b').width;
          txt(ctx, 'f/f/p', 80 - ox + w, 50 - oy, boldIt(7), RED, 'left');
          // titles
          txt(ctx, 'A', 1 - ox, 12 - oy, bold(32), '#000', 'left');
          txt(ctx, 'Light', 117 - ox, 14 - oy, bold(16));
          txt(ctx, 'Dark', 241 - ox, 14 - oy, bold(16));
          txt(ctx, 'Core Temperature (°C)', 27 - ox, 106 - oy, bold(14), '#000', 'center', -Math.PI / 2);
          txt(ctx, 'Activity (A.U.)', 334 - ox, 202 - oy, bold(14), '#000', 'center', Math.PI / 2);
        },
      },
    ],
  };
}

// ================= Panel B configs =================
function configB(isTemp: boolean) {
  const box = isTemp ? BOX_B1 : BOX_B2;
  const area = isTemp ? AREA_B1 : AREA_B2;
  const ox = box.x, oy = box.y;
  const wt = isTemp ? bTempWT : bActWT;
  const lmx = isTemp ? bTempLmx : bActLmx;
  const errs = isTemp ? [bTempWTErr, bTempLmxErr] : [bActWTErr, bActLmxErr];
  const marks = isTemp ? [bTempMarksWT, bTempMarksLmx] : [bActMarksWT, bActMarksLmx];
  const opts: any = common(box, area, isTemp ? 0 : area.l - box.x);
  opts.layout.padding.right = isTemp ? box.x + box.w - area.r : 0;
  opts.scales = {
    x: {
      type: 'category', offset: true, afterFit: fixH(box.y + box.h - area.b),
      ticks: { color: '#000', font: tickFont(16), padding: -5, autoSkip: false, maxRotation: 0 },
      grid: gridOpts(5, { offset: true }), border: BORDER,
    },
    y: isTemp
      ? {
          type: 'linear', position: 'left', min: 36, max: 38.5,
          afterBuildTicks: setTicks(bTempTicks), afterFit: fixW(area.l - box.x),
          ticks: { color: '#000', font: tickFont(15), padding: 2, autoSkip: false, callback: (v: number) => (Number.isInteger(v) ? String(v) : '') },
          grid: gridOpts(4), border: BORDER,
        }
      : {
          type: 'linear', position: 'right', min: 0, max: 14.6,
          afterBuildTicks: setTicks(bActTicks), afterFit: fixW(box.x + box.w - area.r),
          ticks: { color: '#000', font: tickFont(13), padding: 0, autoSkip: false },
          grid: gridOpts(3), border: BORDER,
        },
  };
  return {
    type: 'bar',
    data: {
      labels: bCats,
      datasets: [
        { data: wt, backgroundColor: BLUE, borderWidth: 0, barPercentage: 1, categoryPercentage: 0.63 },
        { data: lmx, backgroundColor: RED, borderWidth: 0, barPercentage: 1, categoryPercentage: 0.63 },
      ],
    },
    options: opts,
    plugins: [
      {
        id: 'bDeco',
        afterDatasetsDraw(chart: any) {
          const { ctx, scales } = chart;
          const cols = [BLUE, RED];
          for (let d = 0; d < 2; d++) {
            const meta = chart.getDatasetMeta(d);
            const vals = chart.data.datasets[d].data;
            meta.data.forEach((bar: any, i: number) => {
              const top = scales.y.getPixelForValue(vals[i] + errs[d][i]);
              ctx.save();
              ctx.strokeStyle = cols[d];
              ctx.lineWidth = 1.5;
              seg(ctx, bar.x, bar.y, bar.x, top);
              seg(ctx, bar.x - 2.5, top, bar.x + 2.5, top);
              ctx.restore();
              if (marks[d][i]) txt(ctx, marks[d][i], bar.x, top - 14, bold(14));
            });
          }
        },
        afterDraw(chart: any) {
          const { ctx, scales } = chart;
          for (let g = 0; g < bGroups.length; g++) {
            const cx = (scales.x.getPixelForValue(2 * g) + scales.x.getPixelForValue(2 * g + 1)) / 2;
            txt(ctx, bGroups[g], cx, 257 - oy, bold(15));
          }
          if (isTemp) {
            txt(ctx, 'B', 347 - ox, 12 - oy, bold(32), '#000', 'left');
            txt(ctx, 'Core Temperature (°C)', 361 - ox, 144 - oy, bold(15), '#000', 'center', -Math.PI / 2);
          } else {
            txt(ctx, 'Activity (A.U.)', 682 - ox, 147 - oy, bold(16), '#000', 'center', Math.PI / 2, 1.22);
            ctx.save();
            ctx.fillStyle = BLUE;
            ctx.fillRect(579 - ox, 13 - oy, 6, 6);
            ctx.fillStyle = RED;
            ctx.fillRect(579 - ox, 26 - oy, 6, 6);
            ctx.restore();
            txt(ctx, 'WT', 588 - ox, 16.5 - oy, bold(15), BLUE, 'left');
            txt(ctx, 'Lmx1b', 588 - ox, 29.5 - oy, boldIt(15), RED, 'left');
            ctx.font = boldIt(15);
            const w = ctx.measureText('Lmx1b').width;
            txt(ctx, 'f/f/p', 589 - ox + w, 24 - oy, boldIt(8), RED, 'left');
          }
        },
      },
    ],
  };
}

// ================= Panels C-F config =================
type TraceSpec = {
  box: Box; area: Area; xMax: number; yMin: number; yMax: number; traces: number[][]; color: string;
  cold: number[]; coldLabel: string; coldLabelX: number; gap: number; letter: string; letterXY: number[];
  yTitleXY: number[]; xTitleXY: number[]; xPad: number; arrows?: number[][];
};

function configTrace(p: TraceSpec) {
  const { box, area } = p;
  const ox = box.x, oy = box.y;
  const xTicks: number[] = [];
  for (let v = 0; v <= p.xMax + 1e-9; v += 0.5) xTicks.push(v);
  const yTicks: number[] = [];
  for (let v = p.yMin; v <= p.yMax + 1e-9; v += 1) yTicks.push(v);
  const opts: any = common(box, area);
  opts.layout.padding.right = box.x + box.w - area.r;
  opts.scales = {
    x: {
      type: 'linear', min: 0, max: p.xMax,
      afterBuildTicks: setTicks(xTicks), afterFit: fixH(box.y + box.h - area.b),
      ticks: { color: '#000', font: tickFont(14), padding: p.xPad, autoSkip: false, maxRotation: 0, callback: (v: number) => (Number.isInteger(v) ? String(v) : '') },
      grid: gridOpts(4), border: BORDER,
    },
    y: {
      type: 'linear', position: 'left', min: p.yMin, max: p.yMax,
      afterBuildTicks: setTicks(yTicks), afterFit: fixW(area.l - box.x),
      ticks: { color: '#000', font: tickFont(14), padding: 3, autoSkip: false, callback: (v: number) => (v % 5 === 0 ? String(v) : '') },
      grid: gridOpts(4), border: BORDER,
    },
  };
  return {
    type: 'line',
    data: { datasets: p.traces.map((t) => lineDs(t, p.color, 2)) },
    options: opts,
    plugins: [
      {
        id: 'traceDeco',
        afterDraw(chart: any) {
          const { ctx, chartArea: ca, scales } = chart;
          const xs = scales.x, ys = scales.y;
          const xa = xs.getPixelForValue(p.cold[0]);
          const xb = xs.getPixelForValue(p.cold[1]);
          const ya = ca.top + 1;
          ctx.save();
          ctx.strokeStyle = '#000';
          ctx.fillStyle = '#000';
          ctx.lineWidth = 2;
          seg(ctx, xa, ca.top, xa, ca.bottom);
          seg(ctx, xb, ca.top, xb, ca.bottom);
          seg(ctx, xa + 6, ya, xb - 6, ya);
          ctx.beginPath();
          ctx.moveTo(xa, ya); ctx.lineTo(xa + 14, ya - 6); ctx.lineTo(xa + 14, ya + 6); ctx.closePath(); ctx.fill();
          ctx.beginPath();
          ctx.moveTo(xb, ya); ctx.lineTo(xb - 14, ya - 6); ctx.lineTo(xb - 14, ya + 6); ctx.closePath(); ctx.fill();
          const lx = xs.getPixelForValue(p.coldLabelX);
          ctx.font = bold(21);
          const tw = ctx.measureText(p.coldLabel).width;
          ctx.fillStyle = '#fff';
          ctx.fillRect(lx - tw / 2 - p.gap, ya - 4, tw + 2 * p.gap, 8);
          if (p.arrows) {
            for (const a of p.arrows) {
              const x1 = xs.getPixelForValue(a[0]);
              const x2 = xs.getPixelForValue(a[1]);
              const y = ys.getPixelForValue(a[2]);
              seg(ctx, x1, y, x2, y);
              ctx.beginPath();
              ctx.moveTo(x1 + 8, y - 6); ctx.lineTo(x1, y); ctx.lineTo(x1 + 8, y + 6);
              ctx.stroke();
            }
          }
          ctx.restore();
          txt(ctx, p.coldLabel, lx, ya + 1, bold(21));
          txt(ctx, p.letter, p.letterXY[0] - ox, p.letterXY[1] - oy, bold(32), '#000', 'left');
          txt(ctx, 'Core Temperature (°C)', p.yTitleXY[0] - ox, p.yTitleXY[1] - oy, bold(15), '#000', 'center', -Math.PI / 2);
          txt(ctx, 'Time (Hours)', p.xTitleXY[0] - ox, p.xTitleXY[1] - oy, bold(17));
        },
      },
    ],
  };
}

const specC: TraceSpec = { box: BOX_C, area: AREA_C, xMax: 7, yMin: 24, yMax: 40, traces: cTraces, color: BLUE, cold: cold4, coldLabel: '4 °C', coldLabelX: 3, gap: 4, letter: 'C', letterXY: [1, 297], yTitleXY: [27, 405], xTitleXY: [190, 543], xPad: -2 };
const specD: TraceSpec = { box: BOX_D, area: AREA_D, xMax: 7, yMin: 24, yMax: 40, traces: dTraces, color: RED, cold: cold4, coldLabel: '4 °C', coldLabelX: 3, gap: 4, letter: 'D', letterXY: [346, 297], yTitleXY: [370, 405], xTitleXY: [532, 543], xPad: -2 };
const specE: TraceSpec = { box: BOX_E, area: AREA_E, xMax: 9, yMin: 25, yMax: 40, traces: eTraces, color: BLUE, cold: cold12, coldLabel: '12 °C', coldLabelX: 4.5, gap: 9, letter: 'E', letterXY: [2, 580], yTitleXY: [24, 700], xTitleXY: [187, 842], xPad: -1 };
const specF: TraceSpec = { box: BOX_F, area: AREA_F, xMax: 9, yMin: 25, yMax: 40, traces: fTraces, color: RED, cold: cold12, coldLabel: '12 °C', coldLabelX: 4.5, gap: 9, letter: 'F', letterXY: [347, 579], yTitleXY: [377, 700], xTitleXY: [540, 842], xPad: -1, arrows: fArrows };

// ================= React =================
function ChartCanvas({ box, make }: { box: Box; make: () => any }) {
  const ref = useRef<HTMLCanvasElement | null>(null);
  useEffect(() => {
    if (!ref.current) return;
    const chart = new Chart(ref.current, make());
    return () => chart.destroy();
  }, []);
  return (
    <canvas
      ref={ref}
      width={box.w}
      height={box.h}
      style={{ position: 'absolute', left: box.x, top: box.y, width: box.w, height: box.h }}
    />
  );
}

export default function App() {
  return (
    <div style={{ position: 'absolute', left: 0, top: 0, width: 689, height: 853, background: '#fff', overflow: 'hidden' }}>
      <ChartCanvas box={BOX_A} make={configA} />
      <ChartCanvas box={BOX_B1} make={() => configB(true)} />
      <ChartCanvas box={BOX_B2} make={() => configB(false)} />
      <ChartCanvas box={BOX_C} make={() => configTrace(specC)} />
      <ChartCanvas box={BOX_D} make={() => configTrace(specD)} />
      <ChartCanvas box={BOX_E} make={() => configTrace(specE)} />
      <ChartCanvas box={BOX_F} make={() => configTrace(specF)} />
    </div>
  );
}
